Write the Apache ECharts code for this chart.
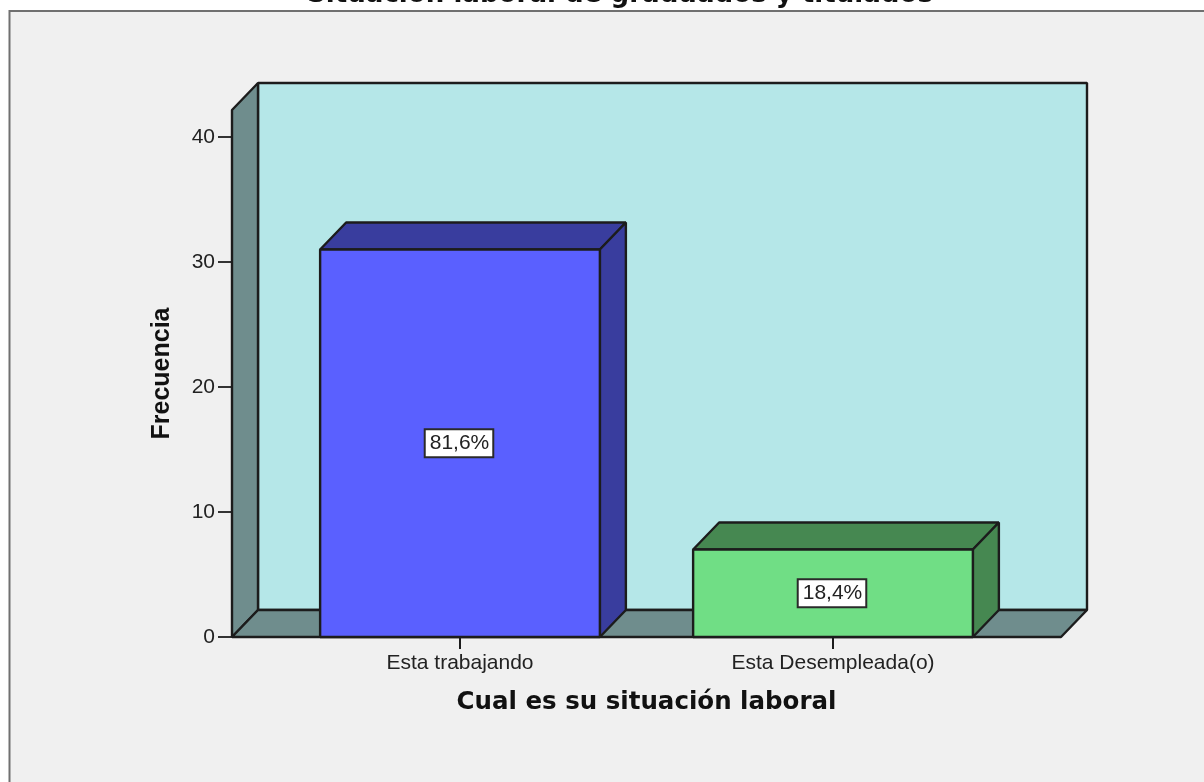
<!DOCTYPE html>
<html>
<head>
<meta charset="utf-8">
<style>html,body{margin:0;padding:0;background:#fff}#c{width:1204px;height:782px}</style>
<script src="https://cdn.jsdelivr.net/npm/echarts@6/dist/echarts.min.js"></script>
</head>
<body>
<div id="c"></div>
<script>
const categories = ['Esta trabajando', 'Esta Desempleada(o)'];
const frequencies = [31, 7];
const percentLabels = ['81,6%', '18,4%'];
const yTicks = [0, 10, 20, 30, 40];
const frontColors = ['#5a60ff', '#70de85'];
const topColors = ['#393d9e', '#468851'];
const sideColors = ['#393d9e', '#468851'];

const DX = 26, DY = 27, INK = '#1c1c1c', FONT = 'Liberation Sans', WIDE = 'DejaVu Sans', SIDE_PAD = 41.5;
const chart = echarts.init(document.getElementById('c'));

function poly(points, fill) {
  return { type: 'polygon', shape: { points }, style: { fill, stroke: INK, lineWidth: 2.4, lineJoin: 'bevel' } };
}

function renderWalls(params) {
  const g = params.coordSys;
  const l = g.x - SIDE_PAD, r = g.x + g.width + SIDE_PAD, t = g.y, b = g.y + g.height;
  return { type: 'group', children: [
    poly([[l + DX, t - DY], [r + DX, t - DY], [r + DX, b - DY], [l + DX, b - DY]], '#b5e7e8'),
    poly([[l, t], [l + DX, t - DY], [l + DX, b - DY], [l, b]], '#6f8d8d'),
    poly([[l, b], [l + DX, b - DY], [r + DX, b - DY], [r, b]], '#6f8d8d')
  ]};
}

function renderBar(params, api) {
  const i = params.dataIndex;
  const base = api.coord([api.value(0), 0]);
  const top = api.coord([api.value(0), api.value(1)]);
  const w = api.size([1, 0])[0] * 0.75;
  const l = base[0] - w / 2, r = base[0] + w / 2;
  return { type: 'group', children: [
    poly([[l, top[1]], [l + DX, top[1] - DY], [r + DX, top[1] - DY], [r, top[1]]], topColors[i]),
    poly([[r, top[1]], [r + DX, top[1] - DY], [r + DX, base[1] - DY], [r, base[1]]], sideColors[i]),
    poly([[l, top[1]], [r, top[1]], [r, base[1]], [l, base[1]]], frontColors[i]),
    { type: 'text', style: {
      x: base[0] - 1, y: (top[1] + base[1]) / 2, text: percentLabels[i], align: 'center', verticalAlign: 'middle',
      font: '21px "' + FONT + '"', fill: '#222', backgroundColor: '#fff', borderColor: '#2a2a2a', borderWidth: 2,
      padding: [3, 3, 2, 4]
    }}
  ]};
}

chart.setOption({
  animation: false,
  backgroundColor: '#fff',
  title: {
    text: 'Situación laboral de graduados y titulados', left: 615, top: -23, textAlign: 'center',
    textStyle: { fontFamily: WIDE, fontWeight: 'bold', fontSize: 26.1, color: '#111' }
  },
  graphic: [{
    type: 'rect', shape: { x: 9.5, y: 11, width: 1210, height: 790 },
    style: { fill: '#f0f0f0', stroke: '#707070', lineWidth: 2 }, silent: true
  }],
  grid: { left: 273.5, right: 184.5, top: 110, bottom: 145, containLabel: false },
  xAxis: {
    type: 'category', data: categories, boundaryGap: true,
    name: 'Cual es su situación laboral', nameLocation: 'middle', nameGap: 53,
    nameTextStyle: { fontFamily: WIDE, fontWeight: 'bold', fontSize: 24.5, color: '#111' },
    axisLine: { show: false },
    axisTick: { show: true, alignWithLabel: true, length: 12, lineStyle: { color: INK, width: 2 } },
    axisLabel: { margin: 16, fontFamily: FONT, fontSize: 21, color: '#222' },
    splitLine: { show: false }
  },
  yAxis: {
    type: 'value', min: 0, max: 42.16, offset: SIDE_PAD,
    name: 'Frecuencia', nameLocation: 'middle', nameGap: 57, nameRotate: 90,
    nameTextStyle: { fontFamily: FONT, fontWeight: 'bold', fontSize: 25, color: '#111' },
    axisLine: { show: false },
    axisTick: { show: true, length: 14, customValues: yTicks, lineStyle: { color: '#333', width: 2 } },
    axisLabel: { margin: 17, padding: [6, 0, 0, 0], fontFamily: FONT, fontSize: 21, color: '#222', customValues: yTicks },
    splitLine: { show: false }
  },
  series: [
    { type: 'custom', renderItem: renderWalls, data: [[0, 0]], encode: { x: 0, y: 1 }, silent: true, z: 1 },
    { type: 'custom', renderItem: renderBar, data: categories.map((c, i) => [i, frequencies[i]]), encode: { x: 0, y: 1 }, silent: true, z: 3 }
  ]
});
</script>
</body>
</html>
